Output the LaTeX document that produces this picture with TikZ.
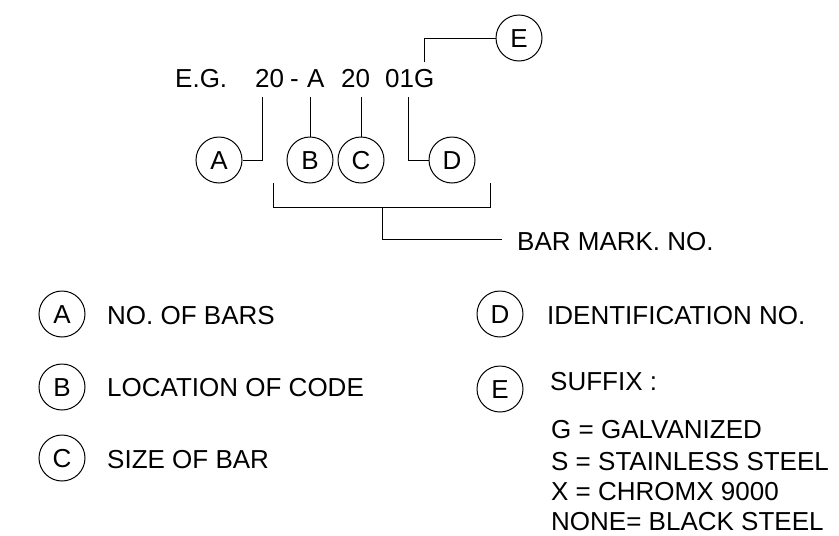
\documentclass[tikz,border=0pt]{standalone}
\usepackage{fontspec}
\setmainfont{Liberation Sans}
\begin{document}
\begin{tikzpicture}[x=1pt,y=-1pt,
  lbl/.style={inner sep=0pt,anchor=base west,font=\fontsize{26}{30}\selectfont},
  tag/.style={circle,draw,line width=1pt,minimum size=46pt,inner sep=0pt,
    text height=18.6pt,text depth=0pt,font=\fontsize{26}{30}\selectfont},
  ln/.style={line width=1pt}]
\useasboundingbox (0,0) rectangle (839,536);
% example row
\node[lbl] (eg) at (175,87) {E.G.};
\node[lbl] (n20a) at (255,87) {20};
\node[lbl] (dash) at (290,87) {-};
\node[lbl] (la) at (307,87) {A};
\node[lbl] (n20b) at (341,87) {20};
\node[lbl] (n01g) at (385,87) {01G};
% tags
\node[tag] (cA) at (219,160) {A};
\node[tag] (cB) at (310,160) {B};
\node[tag] (cC) at (361,160) {C};
\node[tag] (cD) at (452,160) {D};
\node[tag] (cE) at (519,38) {E};
\coordinate (pa) at (262,97);
\coordinate (pb) at (310,97);
\coordinate (pc) at (361,97);
\coordinate (pd) at (408,97);
\coordinate (pe) at (424,62);
\draw[ln] (pa) |- (cA.east);
\draw[ln] (pb) -- (cB.north);
\draw[ln] (pc) -- (cC.north);
\draw[ln] (pd) |- (cD.west);
\draw[ln] (pe) |- (cE.west);
% bracket
\coordinate (bl) at (273,183);
\coordinate (br) at (490,183);
\coordinate (bm) at (382,207);
\coordinate (bend) at (502,239);
\draw[ln] (bl) -- ++(0,24) -| (br);
\draw[ln] (bm) |- (bend);
\node[lbl] (bmk) at (517,250) {BAR MARK. NO.};
% legend
\node[tag] (kA) at (62,314) {A};
\node[tag] (kB) at (62,387) {B};
\node[tag] (kC) at (62,458) {C};
\node[lbl] (tA) at (107,324) {NO. OF BARS};
\node[lbl] (tB) at (107,396) {LOCATION OF CODE};
\node[lbl] (tC) at (107,468) {SIZE OF BAR};
\node[tag] (kD) at (500,314) {D};
\node[tag] (kE) at (500,389) {E};
\node[lbl] (tD) at (547,324) {IDENTIFICATION NO.};
\node[lbl] (tE) at (550,390) {SUFFIX :};
\node[lbl] (s1) at (551,438) {G = GALVANIZED};
\node[lbl] (s2) at (551,470) {S = STAINLESS STEEL};
\node[lbl] (s3) at (551,500) {X = CHROMX 9000};
\node[lbl] (s4) at (551,530) {NONE= BLACK STEEL};
\end{tikzpicture}
\end{document}
